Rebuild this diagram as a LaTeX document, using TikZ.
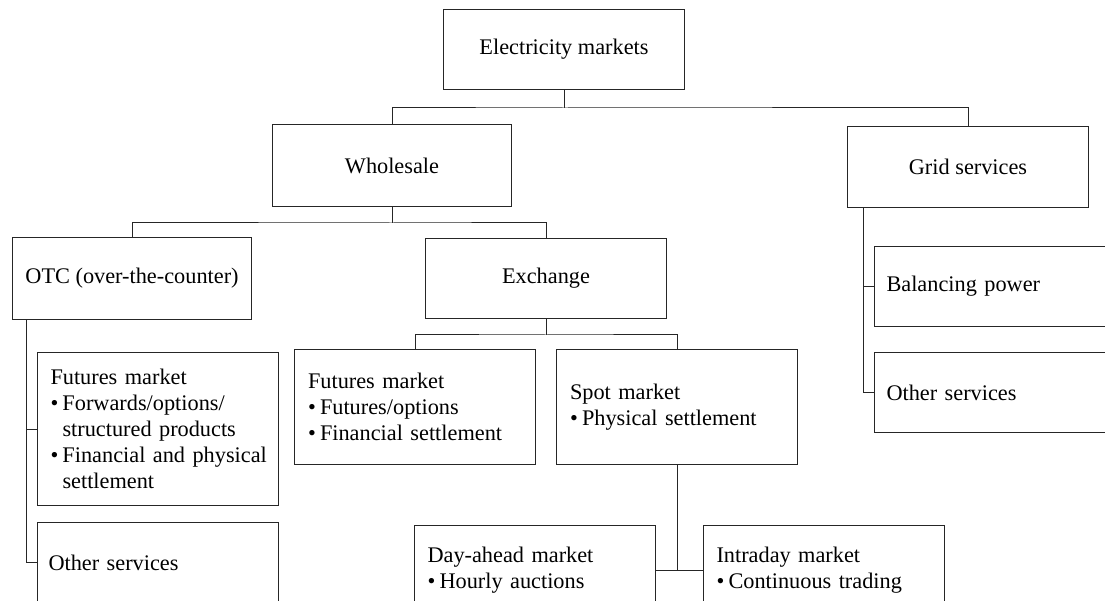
\documentclass[tikz,border=0pt]{standalone}
\usepackage{fontspec}
\setmainfont{Liberation Serif}
\usetikzlibrary{calc}
% bullet item and continuation indent for the list boxes
\newcommand{\bul}{\makebox[12pt][l]{\textbullet}}
\newcommand{\cont}{\hspace*{12pt}}

\begin{document}
\begin{tikzpicture}[x=1pt,y=-1pt,
  box/.style={draw=black!85, line width=1pt, inner sep=0pt, anchor=north west,
    minimum width=241pt, minimum height=81pt,
    font=\fontsize{22.3}{26}\selectfont, text=black, align=center},
  listbox/.style={box, align=left, text width=215pt, inner xsep=13pt},
  link/.style={draw=black!85, line width=1pt}]
\useasboundingbox (0,0) rectangle (1105,601);
\clip (0,0) rectangle (1105,601);

% top levels
\node[box, minimum height=80pt] (em) at (443,9) {Electricity markets};
\node[box, minimum width=239pt, minimum height=82pt] (whole) at (272,124) {Wholesale};
\node[box] (grid) at (847,126) {Grid services};
\node[box, minimum width=239pt, minimum height=82pt] (otc) at (12,237) {OTC (over-the-counter)};
\node[box, minimum height=80pt] (exch) at (425,238) {Exchange};

% OTC branch
\node[listbox, minimum height=153pt] (otcfut) at (37,352)
  {Futures market\\ \bul\mbox{Forwards/options/}\\ \cont\mbox{structured products}\\
   \bul\mbox{Financial and physical}\\ \cont\mbox{settlement}};
\node[listbox, minimum height=80pt, inner xsep=11pt, text width=219pt] (otcoth) at (37,522) {Other services};

% exchange branch
\node[listbox, minimum height=115pt, text width=214pt] (exfut) at (294,349)
  {Futures market\\ \bul Futures/options\\ \bul Financial settlement};
\node[listbox, minimum height=115pt, text width=214pt] (spot) at (556,349)
  {Spot market\\ \bul Physical settlement};
\node[listbox, minimum height=89pt] (dayah) at (414,525)
  {Day-ahead market\\ \bul Hourly auctions};
\node[listbox, minimum height=89pt] (intra) at (703,525)
  {Intraday market\\ \bul Continuous trading};

% grid services branch
\node[listbox, minimum height=80pt, inner xsep=12pt, text width=217pt] (bal) at (874,246) {Balancing power};
\node[listbox, minimum height=80pt, inner xsep=12pt, text width=217pt] (groth) at (874,352) {Other services};

% connectors
\coordinate (j1) at ($(em.south)+(0,18)$);
\draw[link] (em.south) -- (j1);
\draw[link] (whole.north) |- (j1) -| (grid.north);

\coordinate (j2) at ($(whole.south)+(0,16)$);
\draw[link] (whole.south) -- (j2);
\draw[link] (otc.north) |- (j2) -| (exch.north);

\coordinate (j3) at ($(exch.south)+(0,16)$);
\draw[link] (exch.south) -- (j3);
\draw[link] (exfut.north) |- (j3) -| (spot.north);

\draw[link] (spot.south) -- (spot.south |- dayah.east);
\draw[link] (dayah.east) -- (intra.west);

\coordinate (otcstem) at ([xshift=14pt]otc.south west);
\draw[link] (otcstem) |- (otcfut.west);
\draw[link] (otcstem) |- (otcoth.west);

\coordinate (gridstem) at ([xshift=16pt]grid.south west);
\draw[link] (gridstem) |- (bal.west);
\draw[link] (gridstem) |- (groth.west);
\end{tikzpicture}
\end{document}
